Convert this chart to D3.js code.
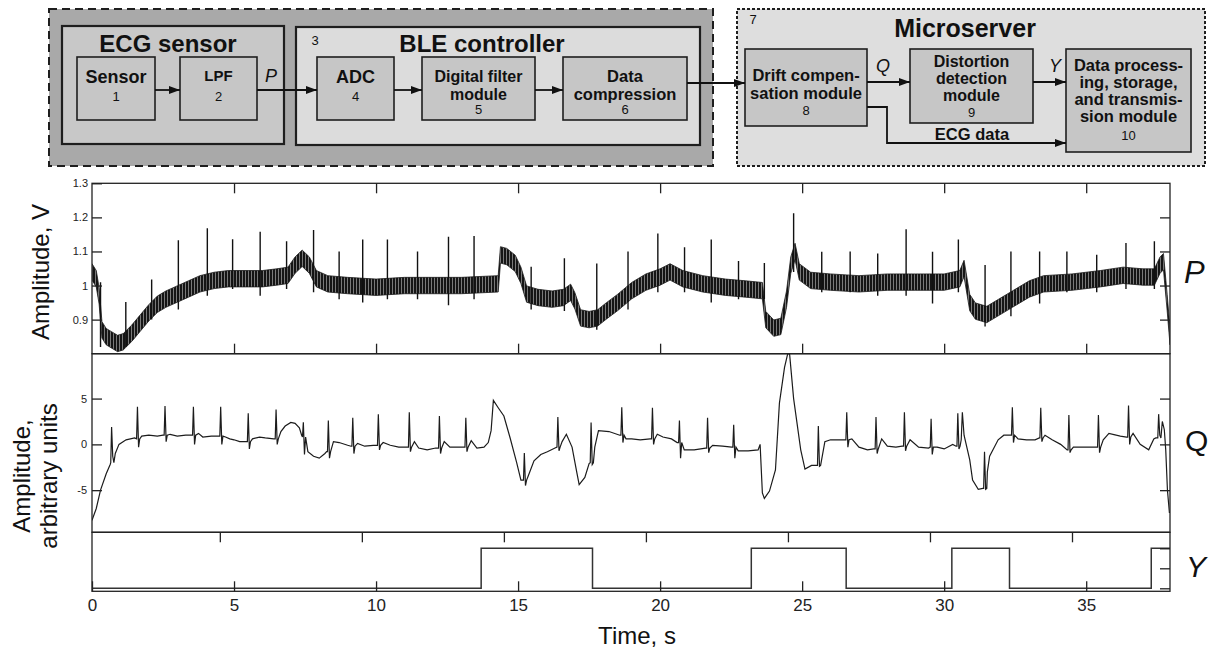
<!DOCTYPE html>
<html>
<head>
<meta charset="utf-8">
<script src="https://cdn.jsdelivr.net/npm/d3@7"></script>
<style>
  body { margin: 0; background: #fff; }
  svg { display: block; font-family: "Liberation Sans", Arial, Helvetica, sans-serif; }
</style>
</head>
<body>
<svg id="chart" width="1213" height="650"></svg>
<script>

// ---- data ----

var timeTicks = [0, 5, 10, 15, 20, 25, 30, 35];
var yTopTicks = [4.5, 9.5, 14.5, 19.5, 24.5, 29.5, 34.5];
var pTicks = [0.9, 1, 1.1, 1.2, 1.3];
var pRightTicks = [0.9, 1, 1.1, 1.2];
var qTicks = [-5, 0, 5];
var yRightTicks = [0, 0.5, 1];

// P : middle of the noisy band, [time s, volts]
var pMid = [
    [0, 1.04], [0.15, 1.02], [0.25, 0.97], [0.35, 0.87], [0.5, 0.85], [0.7, 0.84], [0.9, 0.83],
    [1.1, 0.835], [1.4, 0.86], [1.7, 0.89], [2.0, 0.92], [2.3, 0.945], [2.6, 0.96], [3.0, 0.975],
    [3.4, 0.99], [3.8, 1.005], [4.3, 1.015], [4.8, 1.02], [5.5, 1.02], [6.0, 1.02], [6.5, 1.025],
    [6.9, 1.03], [7.15, 1.06], [7.4, 1.08], [7.65, 1.06], [7.9, 1.02], [8.3, 1.005], [9.0, 1.0],
    [10, 0.995], [11, 1.0], [12, 1.0], [13, 1.0], [14.3, 1.005], [14.38, 1.09], [14.6, 1.085],
    [14.9, 1.065], [15.1, 1.03], [15.3, 0.975], [15.7, 0.965], [16.2, 0.96], [16.6, 0.965],
    [16.85, 0.98], [17.0, 0.955], [17.2, 0.905], [17.5, 0.9], [17.8, 0.905], [18.1, 0.925],
    [18.5, 0.95], [19.0, 0.985], [19.5, 1.01], [20.0, 1.025], [20.35, 1.04], [20.8, 1.02],
    [21.5, 1.005], [22.3, 0.995], [23.0, 0.99], [23.6, 0.985], [23.72, 0.9], [24.0, 0.875],
    [24.25, 0.88], [24.45, 0.96], [24.6, 1.06], [24.75, 1.1], [24.9, 1.04], [25.3, 1.015],
    [26.0, 1.01], [27.0, 1.005], [28.0, 1.01], [29.0, 1.01], [30.0, 1.01], [30.55, 1.02],
    [30.7, 1.05], [30.9, 0.95], [31.1, 0.925], [31.5, 0.915], [31.9, 0.935], [32.4, 0.96],
    [33.0, 0.99], [33.5, 1.005], [34.5, 1.01], [35.5, 1.02], [36.3, 1.03], [37.0, 1.025],
    [37.4, 1.025], [37.6, 1.06], [37.72, 1.07], [37.85, 0.95], [37.95, 0.85]
];
var pNoise = 0.024;

// P : R peaks, [time, top, bottom]
var pBeats = [
    [0.3, 1.01, 0.82], [1.19, 0.952, 0.82], [2.1, 1.018, 0.9], [3.04, 1.133, 0.93],
    [4.06, 1.168, 0.97], [4.95, 1.136, 0.99], [5.92, 1.158, 0.97], [6.85, 1.13, 0.99],
    [7.8, 1.163, 0.98], [8.7, 1.1, 0.96], [9.53, 1.135, 0.95], [10.4, 1.135, 0.96],
    [11.46, 1.1, 0.96], [12.55, 1.143, 0.942], [13.45, 1.145, 0.96], [15.46, 1.055, 0.93],
    [16.63, 1.08, 0.925], [17.77, 1.065, 0.87], [18.87, 1.1, 0.93], [19.92, 1.153, 0.98],
    [20.86, 1.112, 0.98], [21.8, 1.135, 0.95], [22.76, 1.072, 0.96], [23.67, 1.066, 0.96],
    [24.7, 1.212, 1.04], [25.69, 1.099, 0.98], [26.69, 1.1, 0.98], [27.66, 1.094, 0.97],
    [28.66, 1.165, 0.97], [29.59, 1.099, 0.947], [30.5, 1.135, 0.98], [31.44, 1.06, 0.88],
    [32.35, 1.1, 0.91], [33.36, 1.1, 0.947], [34.32, 1.1, 0.98], [35.37, 1.09, 0.98],
    [36.4, 1.125, 0.99], [37.4, 1.13, 0.99]
];

// Q : slow part of the compensated signal, [time, a.u.]
var qBase = [
    [0, -8.3], [0.15, -7.0], [0.3, -5.0], [0.5, -3.2], [0.64, -2.2], [0.82, -1.0], [0.95, 0.0],
    [1.2, 0.5], [1.5, 0.7], [1.75, 0.9], [2.0, 1.0], [2.3, 0.9], [2.5, 1.0], [2.75, 1.1],
    [3.0, 0.9], [3.3, 1.0], [3.5, 1.0], [3.75, 1.2], [3.9, 0.8], [4.2, 0.9], [4.45, 0.9],
    [4.7, 0.8], [4.85, 0.6], [5.0, 0.5], [5.2, 0.3], [5.43, 0.3], [5.65, 0.6], [5.9, 0.8],
    [6.1, 0.7], [6.4, 0.6], [6.65, 1.4], [6.8, 2.0], [7.0, 2.4], [7.15, 2.3], [7.3, 1.8],
    [7.38, 1.0], [7.6, -0.8], [7.8, -1.3], [8.0, -1.5], [8.2, -1.0], [8.26, -0.8], [8.5, 0.3],
    [8.7, 0.2], [9.0, -0.1], [9.12, -0.2], [9.35, 0.1], [9.6, -0.2], [9.9, -0.1], [10.02, -0.1],
    [10.25, 0.2], [10.5, -0.1], [10.8, -0.3], [11.1, -0.3], [11.35, 0.3], [11.5, -0.4],
    [11.8, -0.6], [12.1, -0.4], [12.4, 0.3], [12.6, -0.3], [12.9, -0.3], [13.1, -0.3],
    [13.35, 0.4], [13.55, -0.4], [13.8, -0.3], [13.95, 0.2], [14.05, 1.5], [14.13, 4.8],
    [14.3, 4.0], [14.5, 3.1], [14.72, 0.7], [14.95, -2.0], [15.1, -3.9], [15.35, -3.5],
    [15.56, -1.8], [15.8, -1.1], [16.03, -0.8], [16.3, -0.4], [16.55, 0.3], [16.7, 1.1],
    [16.9, -0.3], [17.07, -3.1], [17.15, -4.4], [17.35, -3.6], [17.5, -2.1], [17.7, -0.3],
    [17.83, 1.5], [18.2, 1.4], [18.58, 1.0], [18.8, 0.6], [19.0, 0.6], [19.3, 0.5], [19.65, 0.6],
    [19.9, 1.1], [20.1, 0.8], [20.4, 0.6], [20.6, 0.2], [20.85, -0.6], [21.2, -0.6], [21.6, -0.4],
    [21.85, -0.1], [22.2, -0.2], [22.52, -0.3], [22.75, -0.7], [23.1, -0.7], [23.45, -0.6],
    [23.52, 0.0], [23.6, -5.3], [23.67, -5.9], [23.85, -5.1], [24.06, -2.8], [24.2, 4.5],
    [24.38, 8.4], [24.5, 10.0], [24.56, 9.8], [24.7, 5.0], [24.95, -0.6], [25.1, -2.7],
    [25.33, -2.3], [25.5, -2.3], [25.8, 0.3], [26.0, 0.5], [26.3, 0.5], [26.5, 0.5], [26.75, 0.6],
    [27.0, -0.3], [27.3, -0.6], [27.52, -0.5], [27.8, 0.6], [28.0, -0.2], [28.3, -0.3],
    [28.52, -0.2], [28.8, 0.5], [29.1, -0.3], [29.45, -0.4], [29.75, -0.3], [30.0, -0.5],
    [30.3, 0.0], [30.42, -0.2], [30.6, 0.5], [30.64, 3.5], [30.7, 1.0], [30.9, -1.7],
    [31.0, -3.9], [31.2, -4.9], [31.36, -4.8], [31.52, -3.0], [31.6, -1.3], [31.9, 0.5],
    [32.1, 1.0], [32.33, 1.0], [32.6, 0.6], [32.9, 0.5], [33.2, 0.5], [33.35, 0.7], [33.55, 1.0],
    [33.8, 0.5], [34.1, 0.0], [34.33, -0.6], [34.55, -0.3], [35.0, -0.3], [35.37, -0.3],
    [35.6, 0.5], [35.8, 1.2], [36.2, 0.9], [36.42, 0.8], [36.65, 1.2], [36.9, 0.0], [37.2, -0.6],
    [37.38, 0.6], [37.45, 0.7], [37.68, 2.5], [37.75, 1.6], [37.8, -0.6], [37.86, -5.0],
    [37.93, -7.5]
];

// Q : QRS complexes, [time, base, peak, trough]
var qBeats = [
    [0.69, -2.0, 1.9, -1.3], [1.6, 0.6, 4.1, -0.3], [2.57, 1.0, 4.2, 0.3], [3.57, 1.0, 4.1, 0.0],
    [4.53, 0.9, 4.1, 0.0], [5.5, 0.3, 3.4, -0.5], [6.48, 0.6, 3.8, 0.0], [7.44, 0.8, 2.4, -1.1],
    [8.32, -0.8, 2.6, -1.5], [9.18, -0.2, 2.9, -1.0], [10.08, -0.1, 3.3, -0.6], [11.17, -0.3, 3.5, -0.8],
    [12.23, -0.4, 3.1, -1.0], [13.16, -0.3, 2.9, -0.8], [15.22, -3.9, -0.95, -4.5], [16.4, -0.3, 3.0, -0.7],
    [17.57, -2.0, 2.4, -2.2], [18.65, 1.0, 4.05, 0.2], [19.73, 0.6, 4.0, 0.0], [20.68, 0.2, 2.6, -1.5],
    [21.67, -0.4, 2.9, -0.9], [22.59, -0.3, 2.15, -1.5], [25.57, -2.3, 2.0, -2.4], [26.57, 0.5, 3.5, -0.3],
    [27.6, -0.5, 3.0, -1.0], [28.6, -0.2, 3.5, -0.7], [29.54, -0.3, 2.8, -1.1], [30.48, -0.2, 3.4, -0.5],
    [31.42, -4.8, -0.8, -4.9], [32.4, 1.0, 4.05, 0.2], [33.4, 0.7, 4.0, 0.3], [34.39, -0.6, 3.2, -0.9],
    [35.43, -0.3, 3.2, -0.9], [36.49, 0.8, 4.25, 0.0], [37.55, 0.7, 3.3, 1.0]
];

// Y : distortion flag, [time it switches, level]
var yEdges = [
    [0, 0], [13.7, 1], [17.62, 0], [23.21, 1], [26.55, 0], [30.27, 1], [32.3, 0], [37.29, 1], [37.95, 1]
];


var svg = d3.select("#chart");

var defs = svg.append("defs");

defs.append("marker")
    .attr("id", "head")
    .attr("markerUnits", "userSpaceOnUse")
    .attr("markerWidth", 11)
    .attr("markerHeight", 8)
    .attr("refX", 11)
    .attr("refY", 4)
    .attr("orient", "auto")
    .append("path")
    .attr("d", "M0,0 L11,4 L0,8 z")
    .attr("fill", "#111");

var hatch = defs.append("pattern")
    .attr("id", "hatch")
    .attr("patternUnits", "userSpaceOnUse")
    .attr("width", 3)
    .attr("height", 6);
hatch.append("rect").attr("width", 3).attr("height", 6).attr("fill", "#7a7a7a");
hatch.append("rect").attr("width", 2).attr("height", 6).attr("fill", "#151515");


// ---- block diagram ----

function box (x, y, w, h, fill, stroke, dash) {
    return svg.append("rect")
        .attr("x", x).attr("y", y)
        .attr("width", w).attr("height", h)
        .attr("fill", fill)
        .attr("stroke", "#1e1e1e")
        .attr("stroke-width", stroke)
        .attr("stroke-dasharray", dash || null);
}

function label (x, y, text, size, weight, style) {
    return svg.append("text")
        .attr("x", x).attr("y", y)
        .attr("text-anchor", "middle")
        .attr("font-size", size)
        .attr("font-weight", weight || "normal")
        .attr("font-style", style || "normal")
        .attr("fill", "#111")
        .text(text);
}

function lines (x, y, texts, size, step) {
    texts.forEach(function (t, i) { label(x, y + i * step, t, size, "bold"); });
}

function arrow (pts) {
    svg.append("path")
        .attr("d", d3.line()(pts))
        .attr("fill", "none")
        .attr("stroke", "#111")
        .attr("stroke-width", 1.8)
        .attr("marker-end", "url(#head)");
}

box(49, 9, 664, 157, "#a9a9a9", 2, "8,5");
box(62, 26, 222, 118, "#c8c8c8", 2.2);
box(296, 27, 404, 118, "#dcdcdc", 2.2);
box(737, 9, 468, 157, "#dedede", 2, "3,2");

box(77, 57, 78, 63, "#c6c6c6", 1.6);
box(180, 57, 77, 63, "#c6c6c6", 1.6);
box(317, 57, 77, 63, "#c6c6c6", 1.6);
box(422, 57, 113, 63, "#c6c6c6", 1.6);
box(563, 57, 124, 63, "#c6c6c6", 1.6);
box(745, 49, 122, 77, "#c6c6c6", 1.6);
box(910, 49, 123, 74, "#c6c6c6", 1.6);
box(1066, 49, 125, 103, "#c6c6c6", 1.6);

arrow([[155, 90], [180, 90]]);
arrow([[257, 90], [317, 90]]);
arrow([[394, 90], [422, 90]]);
arrow([[535, 90], [563, 90]]);
arrow([[687, 83], [745, 83]]);
arrow([[867, 82], [910, 82]]);
arrow([[1033, 82], [1066, 82]]);
arrow([[867, 107], [887, 107], [887, 143], [1066, 143]]);

label(168, 52, "ECG sensor", 24, "bold");
label(482, 52, "BLE controller", 24, "bold");
label(315, 45, "3", 13);
label(965, 37, "Microserver", 25, "bold");
label(753, 24, "7", 13);

label(116, 83, "Sensor", 18, "bold");
label(116, 101, "1", 13);
label(218.5, 81, "LPF", 15, "bold");
label(218.5, 101, "2", 13);
label(271, 82, "P", 18, "normal", "italic");
label(355.5, 83, "ADC", 18, "bold");
label(355.5, 101, "4", 13);
lines(478.5, 82, ["Digital filter", "module"], 16, 17.5);
label(478.5, 114, "5", 13);
lines(625, 82, ["Data", "compression"], 16.5, 17.5);
label(625, 114, "6", 13);

lines(806, 81, ["Drift compen-", "sation module"], 16.5, 18);
label(806, 115, "8", 13);
label(883, 72, "Q", 18, "normal", "italic");
lines(971.5, 67, ["Distortion", "detection", "module"], 16, 17);
label(971.5, 117, "9", 13);
label(1055, 72, "Y", 18, "normal", "italic");
lines(1128.5, 71, ["Data process-", "ing, storage,", "and transmis-", "sion module"], 16.5, 17);
label(1128.5, 140, "10", 13);
label(972, 140, "ECG data", 16.5, "bold");


// ---- signal panels ----

var left = 92, right = 1170;
var pTop = 183.3, pBot = 353.7, qBot = 532.3, yBot = 591.3;

var x = d3.scaleLinear().domain([0, 37.95]).range([left, right]);
var yP = d3.scaleLinear().domain([0.8, 1.3]).range([pBot, pTop]);
var yQ = d3.scaleLinear().domain([-9.6, 9.9]).range([qBot, pBot]);
var yY = d3.scaleLinear().domain([0, 1]).range([588.3, 548.3]);

defs.append("clipPath").attr("id", "clipP")
    .append("rect").attr("x", left).attr("y", pTop).attr("width", right - left).attr("height", pBot - pTop);
defs.append("clipPath").attr("id", "clipQ")
    .append("rect").attr("x", left).attr("y", pBot).attr("width", right - left).attr("height", qBot - pBot);

// P band + spikes
var gP = svg.append("g").attr("clip-path", "url(#clipP)");

gP.append("path")
    .datum(pMid)
    .attr("d", d3.area()
        .x(function (d) { return x(d[0]); })
        .y0(function (d) { return yP(d[1] - pNoise); })
        .y1(function (d) { return yP(d[1] + pNoise); }))
    .attr("fill", "url(#hatch)")
    .attr("stroke", "#1a1a1a")
    .attr("stroke-width", 0.8);

gP.selectAll("line.spike")
    .data(pBeats)
    .enter()
    .append("line")
    .attr("class", "spike")
    .attr("x1", function (d) { return x(d[0]); })
    .attr("x2", function (d) { return x(d[0]); })
    .attr("y1", function (d) { return yP(d[2]); })
    .attr("y2", function (d) { return yP(d[1]); })
    .attr("stroke", "#111")
    .attr("stroke-width", 1.4);

// Q line: slow part merged with the QRS complexes
var qPoints = qBase.slice();
qBeats.forEach(function (b) {
    qPoints.push([b[0] - 0.03, b[1]], [b[0], b[2]], [b[0] + 0.04, b[3]], [b[0] + 0.08, b[1]]);
});
qPoints.sort(function (a, b) { return a[0] - b[0]; });

svg.append("g").attr("clip-path", "url(#clipQ)")
    .append("path")
    .datum(qPoints)
    .attr("d", d3.line()
        .x(function (d) { return x(d[0]); })
        .y(function (d) { return yQ(d[1]); }))
    .attr("fill", "none")
    .attr("stroke", "#1c1c1c")
    .attr("stroke-width", 1.2);

// Y step
svg.append("path")
    .datum(yEdges)
    .attr("d", d3.line()
        .curve(d3.curveStepAfter)
        .x(function (d) { return x(d[0]); })
        .y(function (d) { return yY(d[1]); }))
    .attr("fill", "none")
    .attr("stroke", "#333")
    .attr("stroke-width", 1.5);


// ---- frames and axes ----

[[pTop, pBot], [pBot, qBot], [qBot, yBot]].forEach(function (r) {
    svg.append("rect")
        .attr("x", left).attr("y", r[0])
        .attr("width", right - left).attr("height", r[1] - r[0])
        .attr("fill", "none")
        .attr("stroke", "#222")
        .attr("stroke-width", 1.3);
});

function styleAxis (g, size) {
    g.select(".domain").remove();
    g.selectAll(".tick line").attr("stroke", "#222").attr("stroke-width", 1.3);
    g.selectAll(".tick text").attr("fill", "#222").attr("font-size", size)
        .attr("font-family", "Liberation Sans, Arial, sans-serif");
}

svg.append("g").attr("transform", "translate(" + left + ",0)")
    .call(d3.axisLeft(yP).tickValues(pTicks).tickSizeInner(-10).tickSizeOuter(0).tickPadding(4).tickFormat(String))
    .call(styleAxis, 11);

svg.append("g").attr("transform", "translate(" + right + ",0)")
    .call(d3.axisRight(yP).tickValues(pRightTicks).tickSizeInner(-10).tickSizeOuter(0).tickFormat(""))
    .call(styleAxis, 11);

svg.append("g").attr("transform", "translate(0," + pTop + ")")
    .call(d3.axisTop(x).tickValues(timeTicks.slice(1)).tickSizeInner(-10).tickSizeOuter(0).tickFormat(""))
    .call(styleAxis, 11);

svg.append("g").attr("transform", "translate(0," + pBot + ")")
    .call(d3.axisBottom(x).tickValues(timeTicks.slice(1)).tickSizeInner(-10).tickSizeOuter(0).tickFormat(""))
    .call(styleAxis, 11);

svg.append("g").attr("transform", "translate(" + left + ",0)")
    .call(d3.axisLeft(yQ).tickValues(qTicks).tickSizeInner(-10).tickSizeOuter(0).tickPadding(5).tickFormat(String))
    .call(styleAxis, 11);

svg.append("g").attr("transform", "translate(" + right + ",0)")
    .call(d3.axisRight(yQ).tickValues(qTicks).tickSizeInner(-10).tickSizeOuter(0).tickFormat(""))
    .call(styleAxis, 11);

svg.append("g").attr("transform", "translate(0," + qBot + ")")
    .call(d3.axisTop(x).tickValues(yTopTicks).tickSizeInner(-10).tickSizeOuter(0).tickFormat(""))
    .call(styleAxis, 11);

svg.append("g").attr("transform", "translate(" + right + ",0)")
    .call(d3.axisRight(yY).tickValues(yRightTicks).tickSizeInner(-10).tickSizeOuter(0).tickFormat(""))
    .call(styleAxis, 11);

svg.append("g").attr("transform", "translate(0," + yBot + ")")
    .call(d3.axisBottom(x).tickValues(timeTicks).tickSizeInner(-10).tickSizeOuter(0).tickPadding(8).tickFormat(String))
    .call(styleAxis, 17);


// ---- titles ----

svg.append("text")
    .attr("transform", "translate(49,272) rotate(-90)")
    .attr("text-anchor", "middle")
    .attr("font-size", 24)
    .attr("fill", "#111")
    .text("Amplitude, V");

svg.append("text")
    .attr("transform", "translate(30,476) rotate(-90)")
    .attr("text-anchor", "middle")
    .attr("font-size", 24)
    .attr("fill", "#111")
    .text("Amplitude,");

svg.append("text")
    .attr("transform", "translate(57,476) rotate(-90)")
    .attr("text-anchor", "middle")
    .attr("font-size", 24)
    .attr("fill", "#111")
    .text("arbitrary units");

svg.append("text")
    .attr("x", 637).attr("y", 644)
    .attr("text-anchor", "middle")
    .attr("font-size", 24)
    .attr("fill", "#111")
    .text("Time, s");

svg.append("text").attr("x", 1184).attr("y", 283).attr("font-size", 31)
    .attr("font-style", "italic").attr("fill", "#111").text("P");
svg.append("text").attr("x", 1185).attr("y", 451).attr("font-size", 30)
    .attr("fill", "#111").text("Q");
svg.append("text").attr("x", 1186).attr("y", 577).attr("font-size", 30)
    .attr("font-style", "italic").attr("fill", "#111").text("Y");

</script>
</body>
</html>
